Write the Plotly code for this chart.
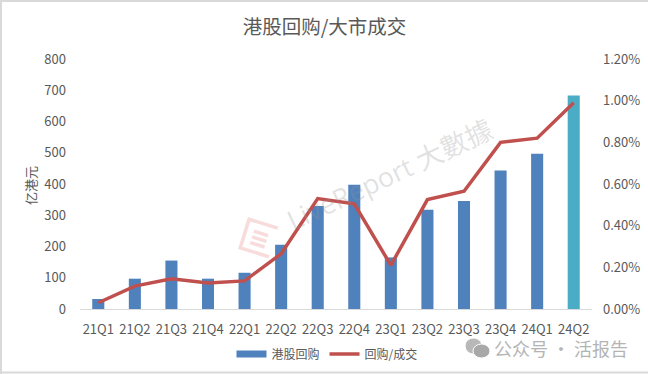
import math
import plotly.graph_objects as go

categories = ["21Q1","21Q2","21Q3","21Q4","22Q1","22Q2","22Q3","22Q4","23Q1","23Q2","23Q3","23Q4","24Q1","24Q2"]
buyback = [32,97,155,97,116,206,330,398,165,318,346,443,497,683]
ratio = [0.03,0.11,0.145,0.125,0.135,0.265,0.53,0.505,0.21,0.525,0.565,0.80,0.82,0.99]
bar_colors = ["#4f81bd"]*13 + ["#4bacc6"]
left_ticks = [0,100,200,300,400,500,600,700,800]
right_ticks = [0,0.2,0.4,0.6,0.8,1.0,1.2]
W, H = 648, 374
L, R, T, B = 80, 56, 59, 65
PW, PH = W-L-R, H-T-B
FONT = "Noto Sans CJK SC"
TXT = "#595959"

def px(x): return (x-L)/PW
def py(y): return (H-B-y)/PH

fig = go.Figure()
fig.add_bar(x=categories, y=buyback, name="港股回购", marker_color=bar_colors, marker_line_width=0, width=0.33, showlegend=False)
fig.add_scatter(x=[None], y=[None], name="港股回购", mode="lines", line=dict(color="#4f81bd", width=7))
fig.add_scatter(x=categories, y=ratio, name="回购/成交", yaxis="y2", mode="lines",
                line=dict(color="#c0504d", width=3.5))

fig.update_layout(
    width=W, height=H, margin=dict(l=L, r=R, t=T, b=B, autoexpand=False),
    paper_bgcolor="white", plot_bgcolor="rgba(0,0,0,0)",
    font=dict(family=FONT, size=12, color=TXT), showlegend=True, autosize=False,
    title=dict(text="港股回购/大市成交", x=(244+405)/2/W, xanchor="center", y=1-27/H, yanchor="middle",
               font=dict(size=19.5, color=TXT, family=FONT)),
    xaxis=dict(type="category", showgrid=False, showline=True, linecolor="#d9d9d9", linewidth=1, automargin=False,
               ticks="", tickfont=dict(size=13, color=TXT), ticklabelstandoff=8),
    yaxis=dict(range=[0,800], tickvals=left_ticks, showgrid=False, zeroline=False, showline=False, ticks="", automargin=False,
               tickfont=dict(size=13, color=TXT), ticklabelstandoff=13),
    yaxis2=dict(range=[0,1.2], tickvals=right_ticks, ticktext=[f"{t:.2f}%" for t in right_ticks], overlaying="y", side="right",
                showgrid=False, zeroline=False, showline=False, ticks="", automargin=False,
                tickfont=dict(size=13, color=TXT), ticklabelstandoff=10),
    legend=dict(orientation="h", x=(242+412)/2/W, xanchor="center", xref="container", y=1-354/H, yanchor="middle", yref="container",
                font=dict(size=12, color=TXT), itemwidth=30, bgcolor="rgba(0,0,0,0)"),
)

# image frame
for x0,y0,x1,y1 in [(0,1,W,1),(1,0,1,H),(0,372.5,W,372.5)]:
    fig.add_shape(type="line", xref="paper", yref="paper", x0=px(x0), x1=px(x1), y0=py(y0), y1=py(y1),
                  line=dict(color="#d9d9d9", width=2))

fig.add_annotation(text="亿港元", xref="paper", yref="paper", x=px(30), y=py(186), showarrow=False, textangle=-90,
                   xanchor="center", yanchor="middle", font=dict(size=13, color=TXT, family=FONT))

# LiveReport watermark text and logo
fig.add_annotation(text="LiveReport 大數據", xref="paper", yref="paper", x=px(389), y=py(174), showarrow=False,
                   xanchor="center", yanchor="middle", textangle=-25,
                   font=dict(size=27, color="rgba(150,150,150,0.28)", family="Open Sans, Noto Sans CJK TC"))

def rot_path(points, cx=259, cy=238, deg=20):
    a = math.radians(deg)
    out = []
    for i,(x,y) in enumerate(points):
        xr = x*math.cos(a) - y*math.sin(a)
        yr = x*math.sin(a) + y*math.cos(a)
        out.append(("M" if i == 0 else "L") + f"{px(cx+xr):.4f},{py(cy+yr):.4f}")
    return " ".join(out)

logo_paths = [
    [(15,-15),(-15,-15),(-15,15),(15,15)],
    [(-7,-5),(8,-5)],
    [(-7,1),(8,1)],
    [(-7,7),(8,7)],
]
for pts in logo_paths:
    fig.add_shape(type="path", xref="paper", yref="paper", path=rot_path(pts, deg=17),
                  line=dict(color="rgba(225,90,90,0.22)", width=3.5))

# WeChat watermark
fig.add_annotation(text="公众号 · 活报告", xref="paper", yref="paper", x=px(561), y=py(348), showarrow=False,
                   xanchor="center", yanchor="middle", font=dict(size=18, color="#b4b4b4", family=FONT))
for x0,y0,x1,y1,c in [(465,338,482,354,"#b8b8b8"),(473,344,490,358,"#a8a8a8")]:
    fig.add_shape(type="circle", xref="paper", yref="paper", x0=px(x0), x1=px(x1), y0=py(y0), y1=py(y1),
                  line=dict(color="white", width=1), fillcolor=c)
fig.write_html("out.html", config={"displayModeBar": False},
               post_script="document.body.style.margin='0';document.body.style.overflow='hidden';")
